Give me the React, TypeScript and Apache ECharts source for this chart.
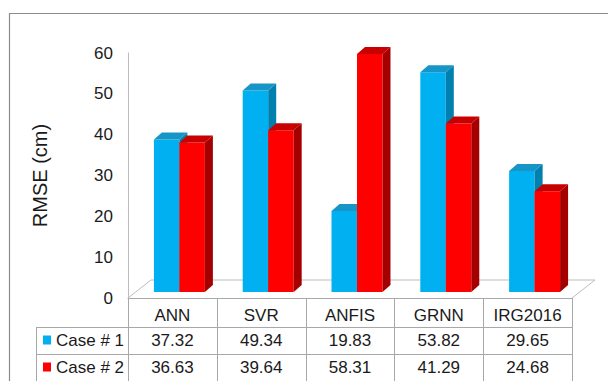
import React, { useEffect, useRef } from "react";
import * as echarts from "echarts";

// Chart data
const categories = ["ANN", "SVR", "ANFIS", "GRNN", "IRG2016"];
const case1 = [37.32, 49.34, 19.83, 53.82, 29.65];
const case2 = [36.63, 39.64, 58.31, 41.29, 24.68];
const seriesNames = ["Case # 1", "Case # 2"];
const yMin = 0;
const yMax = 60;
const yStep = 10;
const yTitle = "RMSE (cm)";

// Layout
const W = 608;
const H = 381;
const GRID_LEFT = 128;
const GRID_RIGHT = 572;
const GRID_TOP = 53;
const GRID_BOTTOM = 298;
const FONT = "'Liberation Sans', Arial, sans-serif";
const TEXT = "#1a1a1a";

// Pseudo-3D depth of the bars and the floor
const BAR_DX = 7; // front face shift into depth
const BAR_DY = 6;
const FACE_DX = 8; // top/side face depth
const FACE_DY = 7;
const FLOOR_DX = 23;
const FLOOR_DY = 18;

const faces = [
  { front: "#00B0F0", top: "#1795C6", side: "#0080AE" },
  { front: "#FF0000", top: "#C80000", side: "#A50000" },
];

function makeRenderItem(s: number) {
  return (_params: any, api: any) => {
    const i = api.value(0);
    const v = api.value(1);
    const top = api.coord([i, v]);
    const base = api.coord([i, 0]);
    const band = api.size([1, 0])[0];
    const w = band * 0.287;
    const cx = top[0] + BAR_DX;
    const x0 = s === 0 ? cx - w : cx;
    const x1 = x0 + w;
    const yT = top[1] - BAR_DY;
    const yB = base[1] - BAR_DY;
    const c = faces[s];
    return {
      type: "group",
      children: [
        {
          type: "rect",
          shape: { x: x0, y: yT, width: w, height: yB - yT },
          style: { fill: c.front },
        },
        {
          type: "polygon",
          shape: {
            points: [
              [x1, yT],
              [x1 + FACE_DX, yT - FACE_DY],
              [x1 + FACE_DX, yB - FACE_DY],
              [x1, yB],
            ],
          },
          style: { fill: c.side },
        },
        {
          type: "polygon",
          shape: {
            points: [
              [x0, yT],
              [x0 + FACE_DX, yT - FACE_DY],
              [x1 + FACE_DX, yT - FACE_DY],
              [x1, yT],
            ],
          },
          style: { fill: c.top },
        },
      ],
    };
  };
}

function buildGraphics() {
  const g: any[] = [];
  const n = categories.length;
  const colW = (GRID_RIGHT - GRID_LEFT) / n;
  const tableLeft = 36;
  const row1 = 327;
  const row2 = 354;
  const tableBottom = 420;
  const lineStyle = { stroke: "#A8A8A8", lineWidth: 1 };

  // outer frame
  g.push({
    type: "rect",
    shape: { x: 9.5, y: 13.5, width: 700, height: 500 },
    style: { fill: "none", stroke: "#8C8C8C", lineWidth: 1.2 },
    silent: true,
  });

  // floor (back edge and sides)
  g.push({
    type: "polyline",
    shape: {
      points: [
        [GRID_LEFT, GRID_BOTTOM],
        [GRID_LEFT + FLOOR_DX, GRID_BOTTOM - FLOOR_DY],
        [GRID_RIGHT + FLOOR_DX, GRID_BOTTOM - FLOOR_DY],
        [GRID_RIGHT, GRID_BOTTOM],
      ],
    },
    style: { fill: "none", stroke: "#BDBDBD", lineWidth: 1 },
    z: 0,
  });

  // data table grid
  for (let k = 0; k <= n; k++) {
    const x = Math.round(GRID_LEFT + k * colW) + 0.5;
    g.push({ type: "line", shape: { x1: x, y1: GRID_BOTTOM, x2: x, y2: tableBottom }, style: lineStyle });
  }
  g.push({ type: "line", shape: { x1: tableLeft + 0.5, y1: row1, x2: tableLeft + 0.5, y2: tableBottom }, style: lineStyle });
  [row1, row2].forEach((y) => {
    g.push({ type: "line", shape: { x1: tableLeft, y1: y + 0.5, x2: GRID_RIGHT, y2: y + 0.5 }, style: lineStyle });
  });

  // rows: legend key, series name, values
  [case1, case2].forEach((vals, s) => {
    const yc = s === 0 ? 340.5 : 367.5;
    g.push({
      type: "rect",
      shape: { x: 43, y: yc - 5, width: 8, height: 9 },
      style: { fill: faces[s].front },
    });
    g.push({
      type: "text",
      x: 56,
      y: yc,
      style: {
        text: seriesNames[s],
        font: `17px ${FONT}`,
        fill: TEXT,
        textAlign: "left",
        textVerticalAlign: "middle",
      },
    });
    vals.forEach((v, i) => {
      g.push({
        type: "text",
        x: GRID_LEFT + (i + 0.5) * colW,
        y: yc,
        style: {
          text: v.toFixed(2),
          font: `17px ${FONT}`,
          fill: TEXT,
          textAlign: "center",
          textVerticalAlign: "middle",
        },
      });
    });
  });
  return g;
}

export default function App() {
  const ref = useRef<HTMLDivElement>(null);

  useEffect(() => {
    if (!ref.current) return;
    const chart = echarts.init(ref.current, undefined, { renderer: "svg" });
    chart.setOption({
      animation: false,
      backgroundColor: "#ffffff",
      grid: {
        left: GRID_LEFT,
        right: W - GRID_RIGHT,
        top: GRID_TOP,
        bottom: H - GRID_BOTTOM,
        containLabel: false,
      },
      xAxis: {
        type: "category",
        data: categories,
        axisLine: { show: true, lineStyle: { color: "#A8A8A8", width: 1 } },
        axisTick: { show: false },
        splitLine: { show: false },
        axisLabel: {
          color: TEXT,
          fontFamily: FONT,
          fontSize: 17,
          margin: 9,
          interval: 0,
        },
      },
      yAxis: {
        type: "value",
        min: yMin,
        max: yMax,
        interval: yStep,
        name: yTitle,
        nameLocation: "middle",
        nameRotate: 90,
        nameGap: 78,
        nameTextStyle: { color: TEXT, fontFamily: FONT, fontSize: 20 },
        axisLine: { show: true, lineStyle: { color: "#BDBDBD", width: 1 } },
        axisTick: { show: false },
        splitLine: { show: false },
        axisLabel: {
          color: TEXT,
          fontFamily: FONT,
          fontSize: 17,
          margin: 15,
        },
      },
      graphic: buildGraphics(),
      series: [case1, case2].map((vals, s) => ({
        type: "custom",
        name: seriesNames[s],
        renderItem: makeRenderItem(s),
        encode: { x: 0, y: 1 },
        data: vals.map((v, i) => [i, v]),
        z: 3 + s,
      })),
    });
    return () => chart.dispose();
  }, []);

  return (
    <div
      ref={ref}
      style={{ position: "fixed", left: 0, top: 0, width: W, height: H }}
    />
  );
}
